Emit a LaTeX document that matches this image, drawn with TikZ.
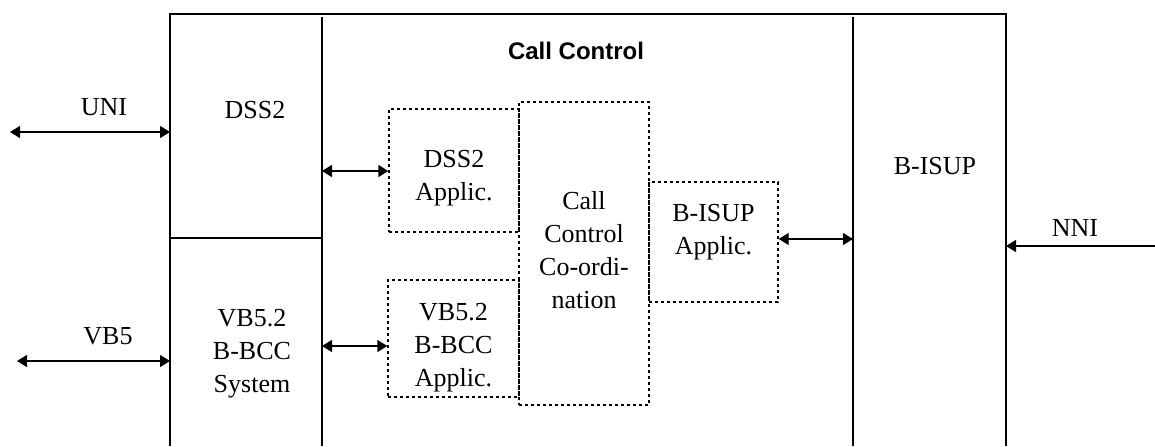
\documentclass[tikz,border=0pt]{standalone}
\usepackage{fontspec}
\setmainfont{Liberation Serif}
\setsansfont{Liberation Sans}
\usetikzlibrary{arrows.meta}

\begin{document}
\begin{tikzpicture}[x=0.5pt, y=-0.5pt,
        app/.style={rectangle, draw, line width=0.7pt,
                    dash pattern=on 1.5pt off 1.5pt, inner sep=0pt},
        lbl/.style={align=center, inner sep=0pt,
                    font=\fontsize{13}{16.5}\selectfont},
        frame/.style={line width=0.6pt},
        wall/.style={line width=1.1pt},
        arr/.style={{Triangle[length=5pt,width=6pt]}-{Triangle[length=5pt,width=6pt]},
                    line width=0.7pt},
        arrin/.style={-{Triangle[length=5pt,width=6pt]}, line width=0.7pt}]
      \useasboundingbox (0,0) rectangle (1155,446);
      % outer frame and partitions
      \draw[frame] (170,446) -- (170,14) -- (1006,14) -- (1006,446);
      \draw[wall] (322,17) -- (322,446);
      \draw[wall] (853,17) -- (853,446);
      \draw[wall] (170,238) -- (322,238);
      % protocol blocks
      \node[lbl] (dss) at (255,110) {DSS2};
      \node[lbl] (vbsys) at (252,354) {VB5.2\\B-BCC\\System};
      \node[lbl] (isup) at (935,166) {B-ISUP};
      \node[font=\sffamily\bfseries\fontsize{12}{14}\selectfont, inner sep=0pt]
            (cc) at (576,51) {Call Control};
      % application boxes
      \node[app, minimum width=65pt, minimum height=61.5pt]
            (dssapp) at (454,170.5) {};
      \node[app, minimum width=65.5pt, minimum height=58.5pt]
            (vbapp) at (453.5,338.5) {};
      \node[app, minimum width=65pt, minimum height=151.5pt]
            (ccc) at (584,253.5) {};
      \node[app, minimum width=64.5pt, minimum height=60pt]
            (isupapp) at (713.5,242) {};
      \node[lbl] (dsstxt) at ([yshift=-4pt]dssapp.center) {DSS2\\Applic.};
      \node[lbl] (vbtxt) at ([yshift=-4.5pt]vbapp.center) {VB5.2\\B-BCC\\Applic.};
      \node[lbl] (cctxt) at ([yshift=1.5pt]ccc.center) {Call\\Control\\Co-ordi-\\nation};
      \node[lbl] (isuptxt) at ([yshift=5pt]isupapp.center) {B-ISUP\\Applic.};
      % interfaces
      \node[lbl] (uni) at (104,107) {UNI};
      \node[lbl] (vb5) at (108,336) {VB5};
      \node[lbl] (nni) at (1075,228) {NNI};
      \coordinate (unifar) at (10,132);
      \coordinate (uniin) at (170,132);
      \coordinate (vbfar) at (17,361);
      \coordinate (vbin) at (170,361);
      \coordinate (nnifar) at (1155,246);
      \coordinate (nniin) at (1006,246);
      \coordinate (dssout) at (322,171);
      \coordinate (vbout) at (322,346);
      \coordinate (isupout) at (853,239);
      % connectors
      \draw[arr] (unifar) -- (uniin);
      \draw[arr] (vbfar) -- (vbin);
      \draw[arrin] (nnifar) -- (nniin);
      \draw[arr] (dssout) -- (dssout -| dssapp.west);
      \draw[arr] (vbout) -- (vbout -| vbapp.west);
      \draw[arr] (isupout -| isupapp.east) -- (isupout);
    \end{tikzpicture}
\end{document}
